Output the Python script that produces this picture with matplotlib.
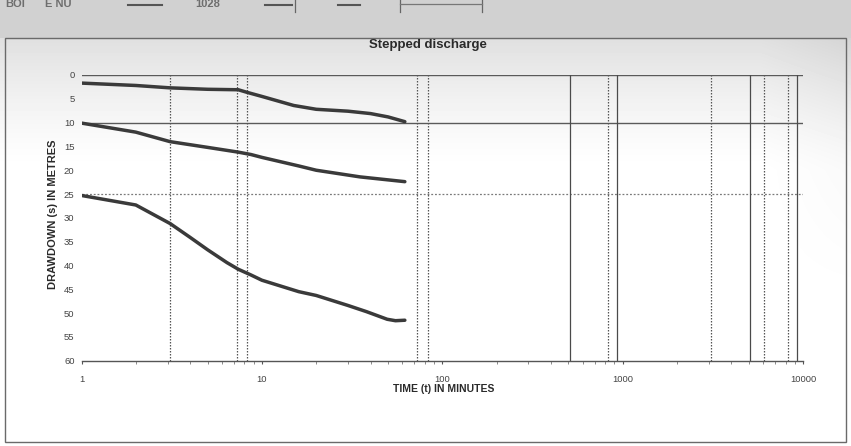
import numpy as np
import matplotlib
matplotlib.use("Agg")
import matplotlib.pyplot as plt
from matplotlib.lines import Line2D
from matplotlib.patches import Rectangle

plt.rcParams['font.family'] = ['Liberation Sans', 'DejaVu Sans']

# pumping test, three discharge steps: time (min) vs drawdown (m)
t_step1 = [1, 2, 3.1, 5, 7.4, 8.2, 10, 15, 20, 30, 40, 50, 62]
s_step1 = [1.7, 2.2, 2.7, 3.0, 3.1, 3.6, 4.5, 6.4, 7.2, 7.6, 8.1, 8.8, 9.8]

t_step2 = [1, 2, 3.1, 5, 7.4, 8.7, 10, 16, 20, 35, 62]
s_step2 = [10.1, 12.0, 14.0, 15.2, 16.2, 16.7, 17.3, 19.1, 20.0, 21.4, 22.4]

t_step3 = [1, 2, 3.1, 4, 5, 6.4, 7.4, 8.7, 10, 16, 20, 30, 38, 49.5, 55, 62]
s_step3 = [25.3, 27.3, 31.2, 34.1, 36.7, 39.4, 40.8, 42.0, 43.1, 45.5, 46.3, 48.4, 49.7, 51.3, 51.6, 51.5]

# reference lines
hline_solid = [0, 10]
hline_dotted = [25]
vline_solid = [510, 930, 5070, 9240]
vline_dotted = [3.1, 7.3, 8.3, 72, 83, 830, 3080, 6060, 8240]

y_ticks = list(range(0, 61, 5))
x_ticks = [1, 10, 100, 1000, 10000]
x_labels = ['1', '10', '100', '1000', '10000']

fig = plt.figure(figsize=(8.51, 4.46), dpi=100)

# greyish sheet, darker at the top edge
bg = fig.add_axes([0, 0, 1, 1], zorder=-10)
bg.axis('off')
rows = np.arange(446)[:, None]
cols = np.arange(851)[None, :]
shade = 1.0 - 0.17 * np.clip(1 - rows / 170.0, 0, 1) ** 1.3
shade = shade - 0.05 * np.clip((cols - 760) / 90.0, 0, 1) * np.clip(1 - rows / 300.0, 0, 1)
shade[:38, :] = 0.82
bg.imshow(shade, cmap='gray', vmin=0, vmax=1, aspect='auto',
          extent=(0, 1, 0, 1), origin='upper')
bg.set_xlim(0, 1)
bg.set_ylim(0, 1)

# header of the form sheet above the chart
def px(x, y):
    return x / 851, 1 - y / 446

for txt, x in [("BOI", 5), ("E NU", 45), ("1028", 195)]:
    fig.text(*px(x, 4), txt, fontsize=8, fontweight='bold', color='#6e6e6e', va='center')
for x0, x1 in [(128, 162), (265, 292), (338, 360)]:
    fig.add_artist(Line2D([x0 / 851, x1 / 851], [1 - 5 / 446] * 2, color='#555555', lw=1.5))
for x in [295, 400, 482]:
    fig.add_artist(Line2D([x / 851] * 2, [1, 1 - 12 / 446], color='#666666', lw=0.9))
fig.add_artist(Line2D([400 / 851, 482 / 851], [1 - 4 / 446] * 2, color='#777777', lw=0.9))

# chart frame
fig.add_artist(Rectangle(px(5, 442), 841 / 851, 404 / 446, transform=fig.transFigure,
                         fill=False, edgecolor='#6a6a6a', lw=1.0))

fig.text(0.503, 1 - 45 / 446, "Stepped discharge", ha='center', va='center',
         fontsize=9.5, fontweight='bold', color='#2a2a2a')

ax = fig.add_axes([81.5 / 851, 1 - 360.7 / 446, 721.6 / 851, 285.7 / 446])
ax.patch.set_alpha(0)
ax.set_xscale('log')
ax.set_xlim(1, 10000)
ax.set_ylim(60, 0)

for sp in ['top', 'left', 'right']:
    ax.spines[sp].set_visible(False)
ax.spines['bottom'].set_color('#555555')
ax.spines['bottom'].set_linewidth(1.0)

for y in hline_solid:
    ax.axhline(y, color='#5a5a5a', lw=1.0, zorder=1)
for y in hline_dotted:
    ax.axhline(y, color='#7a7a7a', lw=0.9, ls=(0, (1.5, 1.5)), zorder=1)
for x in vline_solid:
    ax.axvline(x, color='#4a4a4a', lw=0.9, zorder=1)
for x in vline_dotted:
    ax.axvline(x, color='#555555', lw=0.9, ls=(0, (1.2, 1.2)), zorder=1)

for t, s in [(t_step1, s_step1), (t_step2, s_step2), (t_step3, s_step3)]:
    ax.plot(t, s, color='#3a3a3a', lw=2.5, solid_capstyle='round', zorder=3)

ax.set_yticks(y_ticks)
ax.set_yticklabels([str(v) for v in y_ticks])
ax.set_xticks(x_ticks)
ax.set_xticklabels(x_labels)
ax.tick_params(axis='y', length=0, pad=5, labelsize=6.8, labelcolor='#444444')
ax.tick_params(axis='x', which='major', length=2, pad=8, labelsize=6.8,
               labelcolor='#444444', color='#555555')
ax.tick_params(axis='x', which='minor', length=2, color='#777777')
ax.xaxis.set_minor_formatter(matplotlib.ticker.NullFormatter())

ax.set_ylabel("DRAWDOWN (s) IN METRES", fontsize=8, fontweight='bold', color='#2a2a2a')
ax.yaxis.set_label_coords(-23 / 721.6, 0.513)
ax.set_xlabel("TIME (t) IN MINUTES", fontsize=7.5, fontweight='bold', color='#2a2a2a')
ax.xaxis.set_label_coords(0.502, -0.08)

fig.savefig("out.png", dpi=100)
